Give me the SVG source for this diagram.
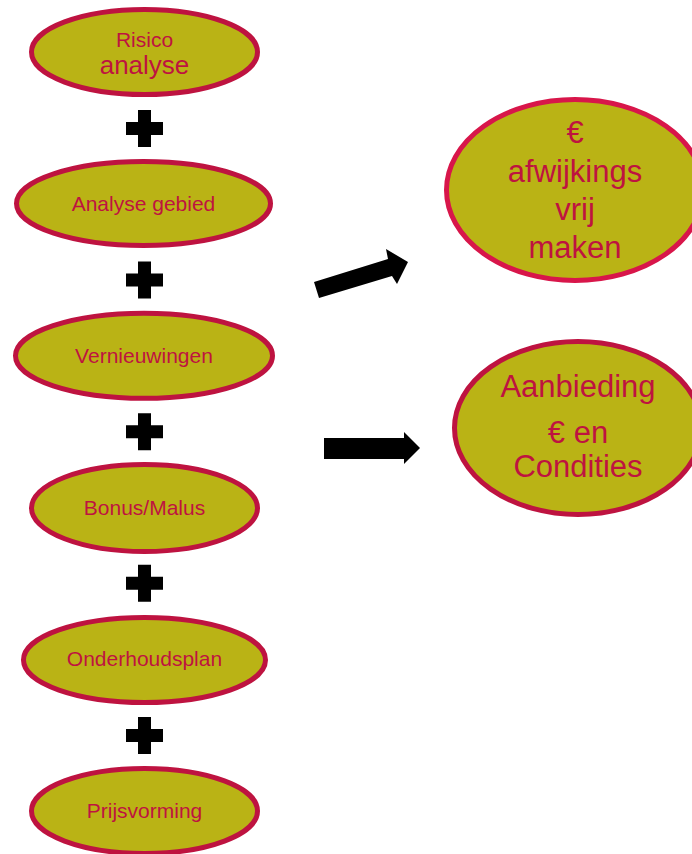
<svg xmlns="http://www.w3.org/2000/svg" width="692" height="854" viewBox="0 0 692 854">
<style>
.n ellipse{fill:#BAB315;stroke:#BE1340;stroke-width:5}
.n text{font-family:"Liberation Sans",Arial,sans-serif;fill:#BE1340;text-anchor:middle}
.s{font-size:21px}
.l{font-size:31px}
.plus{fill:#000}
</style>
<defs>
<path id="plus" d="M-6.5,-18.5h13v12h12v13h-12v12h-13v-12h-12v-13h12z"/>
</defs>
<rect width="692" height="854" fill="#fff"/>
<g id="connectors">
<use href="#plus" x="144.5" y="128.5" class="plus"/>
<use href="#plus" x="144.5" y="280" class="plus"/>
<use href="#plus" x="144.5" y="431.7" class="plus"/>
<use href="#plus" x="144.5" y="583.3" class="plus"/>
<use href="#plus" x="144.5" y="735.5" class="plus"/>
<polygon points="314,282 388,259 386,249 408,262 397,284 392,276 319,298" fill="#000"/>
<polygon points="324,438 404,438 404,432 420,448 404,464 404,459 324,459" fill="#000"/>
</g>
<g id="n1" class="n"><ellipse cx="144.5" cy="52" rx="113" ry="42.5"/><text class="s" x="144.5" y="46.7">Risico</text><text x="144.5" y="73.5" font-size="26">analyse</text></g>
<g id="n2" class="n"><ellipse cx="143.5" cy="203.5" rx="127" ry="42"/><text class="s" x="143.5" y="210.7">Analyse gebied</text></g>
<g id="n3" class="n"><ellipse cx="144" cy="355.7" rx="128.5" ry="42.5"/><text class="s" x="144" y="362.7">Vernieuwingen</text></g>
<g id="n4" class="n"><ellipse cx="144.5" cy="508" rx="113" ry="43.5"/><text class="s" x="144.5" y="515">Bonus/Malus</text></g>
<g id="n5" class="n"><ellipse cx="144.5" cy="660" rx="121" ry="42.5"/><text class="s" x="144.5" y="665.7">Onderhoudsplan</text></g>
<g id="n6" class="n"><ellipse cx="144.5" cy="811" rx="113" ry="42.5"/><text class="s" x="144.5" y="818">Prijsvorming</text></g>
<g id="n7" class="n"><ellipse cx="575" cy="190" rx="128.5" ry="90.5" style="stroke:#D8164A"/><text class="l" x="575" y="142.7">€</text><text class="l" x="575" y="181.7">afwijkings</text><text class="l" x="575" y="220">vrij</text><text class="l" x="575" y="258">maken</text></g>
<g id="n8" class="n"><ellipse cx="578" cy="428" rx="123.5" ry="86.5"/><text class="l" x="578" y="396.7">Aanbieding</text><text class="l" x="578" y="443.3">€ en</text><text class="l" x="578" y="477.3">Condities</text></g>
</svg>
